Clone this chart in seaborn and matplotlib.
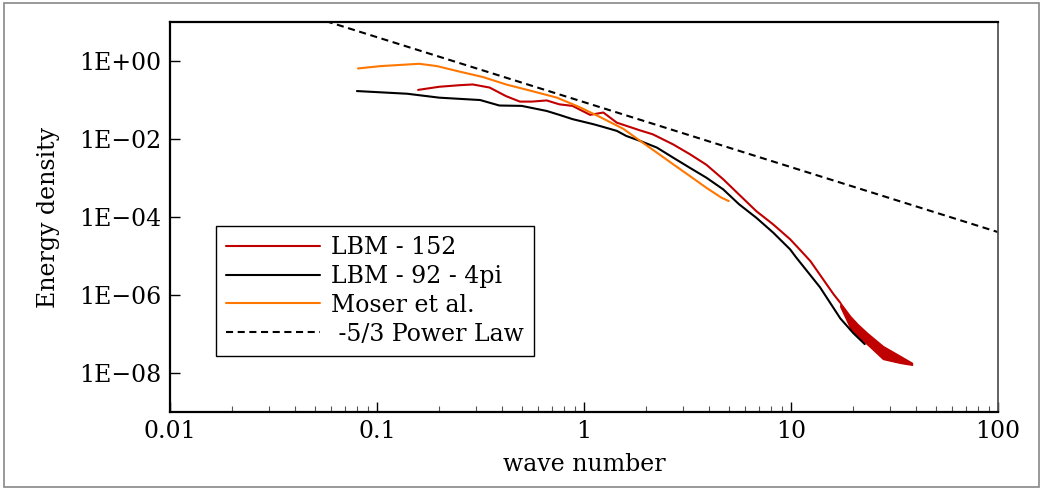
import numpy as np
import pandas as pd
import matplotlib
matplotlib.use("Agg")
import matplotlib.pyplot as plt
import seaborn as sns
from matplotlib.patches import Rectangle

# ---- data ----
k_lbm152 = [0.158, 0.2, 0.25, 0.29, 0.35, 0.42, 0.49, 0.56, 0.66, 0.76, 0.88, 1.07, 1.24,
            1.44, 1.87, 2.15, 2.7, 3.25, 3.9, 4.7, 5.6, 6.8, 8.2, 9.9, 11.0, 12.4, 16.0, 17.3]
e_lbm152 = [0.182, 0.219, 0.24, 0.251, 0.209, 0.126, 0.0912, 0.0912, 0.0977, 0.0776, 0.0708,
            0.0417, 0.0479, 0.0263, 0.0166, 0.0132, 0.00724, 0.00407, 0.00219, 9.33e-4,
            3.8e-4, 1.41e-4, 6.46e-5, 2.69e-5, 1.48e-5, 7.41e-6, 1.07e-6, 6.31e-7]
# high-wavenumber tail of LBM-152 (rapidly oscillating, drawn as its envelope band)
k_lbm152_tail = [17.3, 19.3, 21.0, 23.3, 27.8, 33.6, 38.4]
e_lbm152_tail_hi = [6.31e-7, 2.88e-7, 1.78e-7, 1.07e-7, 4.9e-8, 2.75e-8, 1.82e-8]
e_lbm152_tail_lo = [5.01e-7, 1.45e-7, 8.91e-8, 5.5e-8, 2.29e-8, 1.82e-8, 1.62e-8]

k_lbm92 = [0.08, 0.14, 0.2, 0.315, 0.39, 0.5, 0.66, 0.76, 0.88, 1.11, 1.2, 1.44, 1.6, 1.87,
           2.25, 2.7, 3.25, 3.9, 4.7, 5.6, 6.8, 8.2, 9.9, 10.6, 13.8, 17.3, 20.0, 22.7]
e_lbm92 = [0.170, 0.145, 0.115, 0.1, 0.0724, 0.0708, 0.0525, 0.0417, 0.0324, 0.024, 0.0214,
           0.0162, 0.012, 0.00891, 0.00603, 0.00331, 0.00182, 0.00102, 5.13e-4, 2.14e-4,
           9.55e-5, 3.98e-5, 1.48e-5, 9.12e-6, 1.58e-6, 2.51e-7, 1.05e-7, 5.5e-8]

k_moser = [0.081, 0.104, 0.16, 0.195, 0.25, 0.325, 0.42, 0.56, 0.74, 0.95, 1.2, 1.55, 1.87,
           2.25, 2.7, 3.25, 3.9, 4.6, 5.0]
e_moser = [0.646, 0.741, 0.851, 0.741, 0.537, 0.389, 0.251, 0.17, 0.115, 0.0661, 0.0363,
           0.0182, 0.00891, 0.00447, 0.00224, 0.00112, 5.62e-4, 3.16e-4, 2.57e-4]

k_power = [0.05, 100.0]
e_power = [13.0, 4.1e-5]

series_labels = ["LBM - 152", "LBM - 92 - 4pi", "Moser et al.", " -5/3 Power Law"]
x_ticks = [0.01, 0.1, 1, 10, 100]
x_tick_labels = ["0.01", "0.1", "1", "10", "100"]
y_ticks = [1e-8, 1e-6, 1e-4, 1e-2, 1e0]
y_tick_labels = ["1E\u221208", "1E\u221206", "1E\u221204", "1E\u221202", "1E+00"]

# ---- style ----
sns.set_style("white")
plt.rcParams["font.family"] = ["DejaVu Serif"]
plt.rcParams["font.size"] = 17
plt.rcParams["text.color"] = "black"
plt.rcParams["axes.labelcolor"] = "black"
plt.rcParams["xtick.color"] = "black"
plt.rcParams["ytick.color"] = "black"

fig = plt.figure(figsize=(10.44, 4.90), dpi=100)
ax = fig.add_axes([0.1628, 0.1592, 0.956 - 0.1628, 0.955 - 0.1592])

red = "#c00000"
orange = "#ff7700"

sns.lineplot(x=k_lbm152, y=e_lbm152, ax=ax, color=red, lw=1.5, label=series_labels[0],
             estimator=None, sort=False)
ax.fill_between(k_lbm152_tail, e_lbm152_tail_lo, e_lbm152_tail_hi, color=red, lw=1.0,
                edgecolor=red)
sns.lineplot(x=k_lbm92, y=e_lbm92, ax=ax, color="black", lw=1.5, label=series_labels[1],
             estimator=None, sort=False)
sns.lineplot(x=k_moser, y=e_moser, ax=ax, color=orange, lw=1.5, label=series_labels[2],
             estimator=None, sort=False)
sns.lineplot(x=k_power, y=e_power, ax=ax, color="black", lw=1.5, label=series_labels[3],
             estimator=None, sort=False)
ax.lines[-1].set_dashes((3.4, 2.2))

ax.set_xscale("log")
ax.set_yscale("log")
ax.set_xlim(0.01, 100)
ax.set_ylim(1e-9, 1e1)
ax.set_xticks(x_ticks)
ax.set_xticklabels(x_tick_labels)
ax.set_yticks(y_ticks)
ax.set_yticklabels(y_tick_labels)
ax.yaxis.set_minor_locator(matplotlib.ticker.NullLocator())
ax.xaxis.set_minor_locator(matplotlib.ticker.LogLocator(base=10, subs=np.arange(2, 10)))
ax.xaxis.set_minor_formatter(matplotlib.ticker.NullFormatter())

ax.tick_params(axis="both", which="major", direction="in", length=7, width=1.0,
               labelsize=17, bottom=True, left=True, top=False, right=False, pad=6,
               colors="black")
ax.tick_params(axis="x", which="minor", direction="in", length=4, width=0.8,
               bottom=True, top=False, color="#555555")
ax.tick_params(axis="y", which="minor", left=False, right=False)

for side in ["left", "bottom", "top"]:
    ax.spines[side].set_color("black")
    ax.spines[side].set_linewidth(1.6)
ax.spines["right"].set_color("#555555")
ax.spines["right"].set_linewidth(1.3)

ax.set_xlabel("wave number", fontsize=17, labelpad=7, color="black")
ax.set_ylabel("Energy density", fontsize=17, labelpad=14, color="black")

leg = ax.legend(loc="upper left", bbox_to_anchor=(0.0556, 0.477), borderaxespad=0,
                fancybox=False, framealpha=1, edgecolor="black", fontsize=17,
                handlelength=4.0, labelspacing=0.25, borderpad=0.42, handletextpad=0.47,
                labelcolor="black")
leg.get_frame().set_linewidth(1.0)

fig.patches.append(Rectangle((0.0035, 0.006), 0.9915, 0.987, transform=fig.transFigure,
                             fill=False, edgecolor="#888888", lw=1.2))

fig.savefig("out.png", dpi=100)
